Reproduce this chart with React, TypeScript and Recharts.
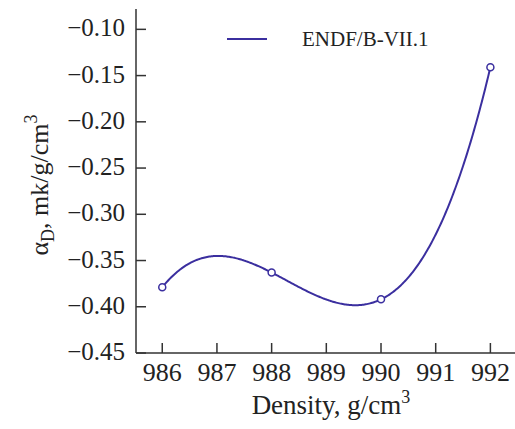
import React from "react";
import { LineChart, Line, XAxis, YAxis, Legend, Label } from "recharts";

const densities = [986, 988, 990, 992];
const alphaD = [-0.379, -0.363, -0.392, -0.141];
const xTicks = [986, 987, 988, 989, 990, 991, 992];
const yTicks = [-0.45, -0.4, -0.35, -0.3, -0.25, -0.2, -0.15, -0.1];
const seriesName = "ENDF/B-VII.1";

const data = densities.map((d, i) => ({ density: d, alpha: alphaD[i] }));

const COLOR = "#3b2f9f";
const AXIS = "#333333";
const FONT = "Liberation Serif";
const TXT = { fontFamily: FONT } as React.CSSProperties;

// plot-area layout
const AXIS_X = 136;
const AXIS_Y = 353;

// Smooth polynomial curve through all given points (drawing style only)
const polyCurve = (context: any) => {
  let xs: number[] = [];
  let ys: number[] = [];
  return {
    areaStart() {},
    areaEnd() {},
    lineStart() {
      xs = [];
      ys = [];
    },
    lineEnd() {
      const n = xs.length;
      if (!n) return;
      const f = (x: number) => {
        let s = 0;
        for (let i = 0; i < n; i++) {
          let p = ys[i];
          for (let j = 0; j < n; j++) {
            if (j !== i) p *= (x - xs[j]) / (xs[i] - xs[j]);
          }
          s += p;
        }
        return s;
      };
      context.moveTo(xs[0], ys[0]);
      const steps = 300;
      for (let k = 1; k <= steps; k++) {
        const x = xs[0] + ((xs[n - 1] - xs[0]) * k) / steps;
        context.lineTo(x, f(x));
      }
    },
    point(x: number, y: number) {
      xs.push(+x);
      ys.push(+y);
    },
  };
};

const fmtY = (v: number) => v.toFixed(2).replace("-", "\u2212");

const YTick = (props: any) => {
  const { y, payload } = props;
  return (
    <g>
      <line x1={AXIS_X} x2={AXIS_X + 10} y1={y} y2={y} stroke={AXIS} strokeWidth={1.5} />
      <text x={AXIS_X - 11} y={y} dy={7} textAnchor="end" fontFamily={FONT} style={TXT} fontSize={25} fill="#222">
        {fmtY(payload.value)}
      </text>
    </g>
  );
};

const XTick = (props: any) => {
  const { x, payload } = props;
  return (
    <g>
      <line x1={x} x2={x} y1={AXIS_Y} y2={AXIS_Y - 10} stroke={AXIS} strokeWidth={1.5} />
      <text x={x} y={AXIS_Y + 28} textAnchor="middle" fontFamily={FONT} style={TXT} fontSize={26} fill="#222">
        {payload.value}
      </text>
    </g>
  );
};

const YLabel = () => (
  <text
    transform="translate(48, 185) rotate(-90)"
    textAnchor="middle"
    fontFamily={FONT}
    style={TXT}
    fontSize={26}
    fill="#222"
  >
    <tspan>{"\u03B1"}</tspan>
    <tspan dy={6} fontSize={18}>D</tspan>
    <tspan dy={-6}>, mk/g/cm</tspan>
    <tspan dy={-11} fontSize={18}>3</tspan>
  </text>
);

const XLabel = () => (
  <text x={331} y={414} textAnchor="middle" fontFamily={FONT} style={TXT} fontSize={27} fill="#222">
    <tspan>Density, g/cm</tspan>
    <tspan dy={-11} fontSize={18}>3</tspan>
  </text>
);

const LegendContent = () => (
  <svg width={260} height={30}>
    <line x1={7} x2={47} y1={15} y2={15} stroke={COLOR} strokeWidth={2} />
    <text x={82} y={22} fontFamily={FONT} style={TXT} fontSize={21} fill="#222">
      {seriesName}
    </text>
  </svg>
);

const OpenDot = (props: any) => {
  const { cx, cy } = props;
  if (cx == null || cy == null) return null;
  return <circle cx={cx} cy={cy} r={3.5} fill="#fff" stroke={COLOR} strokeWidth={1.5} />;
};

export default function App() {
  return (
    <div className="serif-chart" style={{ position: "absolute", left: 0, top: 0, fontFamily: FONT }}>
      <style>{`.serif-chart text, .serif-chart tspan { font-family: "Liberation Serif", serif !important; }`}</style>
      <LineChart
        width={515}
        height={429}
        data={data}
        margin={{ top: 9, right: 0, bottom: 0, left: 0 }}
        style={{ fontFamily: FONT }}
      >
        <XAxis
          dataKey="density"
          type="number"
          domain={[985.52, 992.45]}
          ticks={xTicks}
          allowDataOverflow
          height={76}
          tickLine={false}
          tick={<XTick />}
          stroke={AXIS}
          strokeWidth={1.5}
          label={<Label content={<XLabel />} />}
        />
        <YAxis
          type="number"
          domain={[-0.45, -0.078]}
          ticks={yTicks}
          allowDataOverflow
          width={136}
          tickLine={false}
          tick={<YTick />}
          stroke={AXIS}
          strokeWidth={1.5}
          label={<Label content={<YLabel />} />}
        />
        <Legend
          verticalAlign="middle"
          align="center"
          layout="horizontal"
          wrapperStyle={{ top: 24, left: 220, width: 260 }}
          content={<LegendContent />}
        />
        <Line
          dataKey="alpha"
          name={seriesName}
          type={polyCurve as any}
          stroke={COLOR}
          strokeWidth={2}
          dot={<OpenDot />}
          activeDot={false}
          isAnimationActive={false}
        />
      </LineChart>
    </div>
  );
}
